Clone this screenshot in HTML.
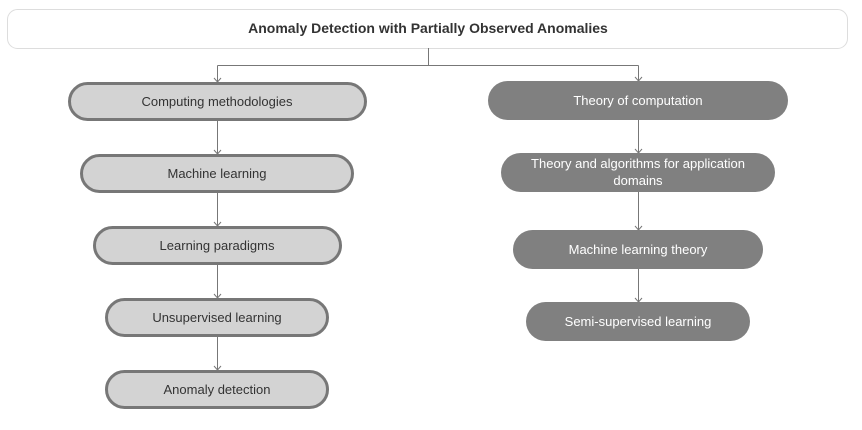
<!DOCTYPE html>
<html><head><meta charset="utf-8"><style>
html,body{margin:0;padding:0;background:#fff;}
svg{display:block;font-family:"Liberation Sans","DejaVu Sans",sans-serif;}
</style></head><body>
<svg width="862" height="430" viewBox="0 0 862 430">
  <rect x="7.5" y="9.5" width="840" height="39" rx="10" fill="#fff" stroke="#ddd"/>
  <text x="428" y="33" text-anchor="middle" font-size="14" font-weight="bold" fill="#333">Anomaly Detection with Partially Observed Anomalies</text>
  <g stroke="#777" stroke-width="1" fill="none">
    <path d="M428.5 48 V65.5 M217.5 65.5 H638.5 M217.5 65.5 V82 M638.5 65.5 V81"/>
    <path d="M214 78 L217.5 82 L221 78 M635 77 L638.5 81 L642 77"/>
  </g>
  <g stroke="#777" stroke-width="1" fill="none">
    <path d="M217.5 120 V154 M214 150 L217.5 154 L221 150"/>
    <path d="M217.5 192 V226 M214 222 L217.5 226 L221 222"/>
    <path d="M217.5 264 V298 M214 294 L217.5 298 L221 294"/>
    <path d="M217.5 336 V370 M214 366 L217.5 370 L221 366"/>
  </g>
  <g stroke="#777" stroke-width="1" fill="none">
    <path d="M638.5 120 V153 M635 149 L638.5 153 L642 149"/>
    <path d="M638.5 192 V230 M635 226 L638.5 230 L642 226"/>
    <path d="M638.5 269 V302 M635 298 L638.5 302 L642 298"/>
  </g>
  <g font-size="13" fill="#333" text-anchor="middle">
    <g><rect x="69.5" y="83.5" width="296" height="36" rx="18" fill="#d3d3d3" stroke="#777" stroke-width="3"/><text x="217" y="106">Computing methodologies</text></g>
    <g><rect x="81.5" y="155.5" width="271" height="36" rx="18" fill="#d3d3d3" stroke="#777" stroke-width="3"/><text x="217" y="178">Machine learning</text></g>
    <g><rect x="94.5" y="227.5" width="246" height="36" rx="18" fill="#d3d3d3" stroke="#777" stroke-width="3"/><text x="217" y="250">Learning paradigms</text></g>
    <g><rect x="106.5" y="299.5" width="221" height="36" rx="18" fill="#d3d3d3" stroke="#777" stroke-width="3"/><text x="217" y="322">Unsupervised learning</text></g>
    <g><rect x="106.5" y="371.5" width="221" height="36" rx="18" fill="#d3d3d3" stroke="#777" stroke-width="3"/><text x="217" y="394">Anomaly detection</text></g>
  </g>
  <g font-size="13" fill="#fff" text-anchor="middle">
    <g><rect x="488" y="81" width="300" height="39" rx="19.5" fill="#808080"/><text x="638" y="105">Theory of computation</text></g>
    <g><rect x="501" y="153" width="274" height="39" rx="19.5" fill="#808080"/><text x="638" y="168">Theory and algorithms for application</text><text x="638" y="185">domains</text></g>
    <g><rect x="513" y="230" width="250" height="39" rx="19.5" fill="#808080"/><text x="638" y="254">Machine learning theory</text></g>
    <g><rect x="526" y="302" width="224" height="39" rx="19.5" fill="#808080"/><text x="638" y="326">Semi-supervised learning</text></g>
  </g>
</svg>
</body></html>
